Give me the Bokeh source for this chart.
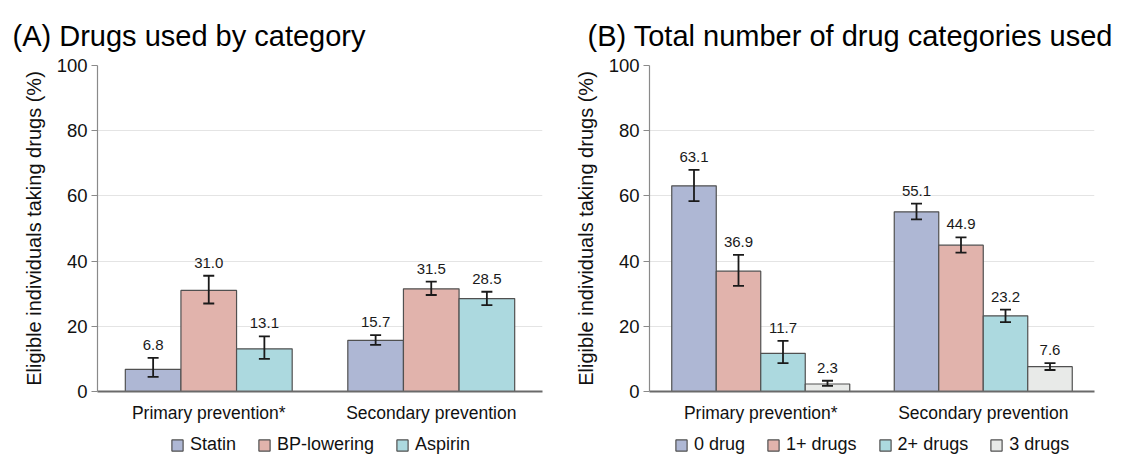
from bokeh.plotting import figure
from bokeh.layouts import row, column
from bokeh.models import (ColumnDataSource, FactorRange, Range1d, FixedTicker,
                          Whisker, TeeHead, Legend, LegendItem)
from bokeh.transform import dodge
from bokeh.core.properties import value
from bokeh.embed import file_html
from bokeh.resources import INLINE

FONT = "Liberation Sans"

groups = ["Primary prevention*", "Secondary prevention"]

# (A) Drugs used by category: estimate, lower and upper 95% CI
statin = [6.8, 15.7]
statin_lo = [4.5, 14.3]
statin_hi = [10.3, 17.3]
bp_lowering = [31.0, 31.5]
bp_lowering_lo = [27.0, 29.6]
bp_lowering_hi = [35.5, 33.7]
aspirin = [13.1, 28.5]
aspirin_lo = [10.0, 26.5]
aspirin_hi = [16.9, 30.6]

# (B) Total number of drug categories used
drug0 = [63.1, 55.1]
drug0_lo = [58.4, 52.8]
drug0_hi = [68.0, 57.6]
drug1 = [36.9, 44.9]
drug1_lo = [32.4, 42.6]
drug1_hi = [41.9, 47.3]
drug2 = [11.7, 23.2]
drug2_lo = [8.7, 21.3]
drug2_hi = [15.5, 25.1]
drug3 = [2.3, 7.6]
drug3_lo = [1.7, 6.6]
drug3_hi = [3.3, 8.7]

y_ticks = [0, 20, 40, 60, 80, 100]

BLUE = "#aeb7d4"
RED = "#e1b3ac"
CYAN = "#acd9df"
GREY = "#e8eae8"
EDGE = "#505050"


def series_source(vals, lo, hi):
    return ColumnDataSource(dict(group=groups, top=vals, lower=lo, upper=hi,
                                 label=[f"{v:.1f}" for v in vals]))


def make_panel(title, series, bar_width, title_offset, border_left, border_right):
    p = figure(x_range=FactorRange(*groups, range_padding=0, factor_padding=0),
               y_range=Range1d(0, 100),
               frame_width=445, frame_height=326,
               min_border_left=border_left, min_border_right=border_right,
               min_border_top=65, min_border_bottom=36,
               output_backend="svg", toolbar_location=None, title=title)
    p.title.text_font = FONT
    p.title.text_font_size = "29px"
    p.title.text_font_style = "normal"
    p.title.text_color = "#000000"
    p.title.align = "left"
    p.title.offset = title_offset
    p.title.standoff = 27

    p.outline_line_color = None
    p.xgrid.grid_line_color = None
    p.ygrid.grid_line_color = "#e4e4e4"
    p.ygrid.grid_line_width = 1.2

    p.yaxis.ticker = FixedTicker(ticks=y_ticks)
    p.yaxis.axis_label = "Eligible individuals taking drugs (%)"
    p.yaxis.axis_label_text_font = FONT
    p.yaxis.axis_label_text_font_size = "20px"
    p.yaxis.axis_label_text_font_style = "normal"
    p.yaxis.axis_label_text_color = "#111111"
    p.yaxis.axis_label_standoff = 9
    p.yaxis.major_label_text_font = FONT
    p.yaxis.major_label_text_font_size = "18.5px"
    p.yaxis.major_label_text_color = "#111111"
    p.yaxis.major_label_standoff = 4
    p.yaxis.axis_line_color = "#8a8a8a"
    p.yaxis.axis_line_width = 1.2
    p.yaxis.major_tick_line_color = "#8a8a8a"
    p.yaxis.major_tick_line_width = 1.2
    p.yaxis.major_tick_out = 6
    p.yaxis.major_tick_in = 0
    p.yaxis.minor_tick_line_color = None

    p.xaxis.major_label_text_font = FONT
    p.xaxis.major_label_text_font_size = "17.5px"
    p.xaxis.major_label_text_color = "#111111"
    p.xaxis.major_label_standoff = 11
    p.xaxis.axis_line_color = "#6a6a6a"
    p.xaxis.axis_line_width = 1.8
    p.xaxis.major_tick_line_color = None
    p.xaxis.major_tick_out = 0
    p.xaxis.major_tick_in = 0
    p.xaxis.minor_tick_line_color = None

    n = len(series)
    for i, (name, vals, lo, hi, color) in enumerate(series):
        off = (i - (n - 1) / 2) * bar_width
        src = series_source(vals, lo, hi)
        p.vbar(x=dodge("group", off, range=p.x_range), top="top", bottom=0,
               width=bar_width, source=src, fill_color=color,
               line_color=EDGE, line_width=1.2)
        w = Whisker(base=dodge("group", off, range=p.x_range), upper="upper", lower="lower",
                    source=src, line_color="#1a1a1a", line_width=1.8, level="overlay",
                    upper_head=TeeHead(size=11, line_color="#1a1a1a", line_width=1.8),
                    lower_head=TeeHead(size=11, line_color="#1a1a1a", line_width=1.8))
        p.add_layout(w)
        p.text(x=dodge("group", off, range=p.x_range), y="upper", text="label", source=src,
               text_font=value(FONT), text_font_size="15px", text_color="#1a1a1a",
               text_align="center", text_baseline="bottom", y_offset=-8)
    return p


def make_key(series, bar_width, border_left, border_right, legend_x):
    # a thin strip under each panel that holds its horizontal key;
    # its bar renderers stay hidden and only lend their swatches to the legend
    k = figure(x_range=FactorRange(*groups, range_padding=0, factor_padding=0),
               y_range=Range1d(0, 100),
               frame_width=445, frame_height=28,
               min_border_left=border_left, min_border_right=border_right,
               min_border_top=0, min_border_bottom=0,
               x_axis_location=None, y_axis_location=None,
               output_backend="svg", toolbar_location=None)
    k.grid.visible = False
    k.outline_line_color = None
    n = len(series)
    items = []
    for i, (name, vals, lo, hi, color) in enumerate(series):
        off = (i - (n - 1) / 2) * bar_width
        r = k.vbar(x=dodge("group", off, range=k.x_range), top="top", bottom=0,
                   width=bar_width, source=series_source(vals, lo, hi),
                   fill_color=color, line_color=EDGE, line_width=1.2, visible=False)
        items.append(LegendItem(label=value(name), renderers=[r]))
    legend = Legend(items=items, orientation="horizontal", location=(legend_x, 0),
                    glyph_width=14, glyph_height=14, label_standoff=6, spacing=21,
                    label_text_font=FONT, label_text_font_size="18px",
                    label_text_color="#111111", border_line_color=None,
                    background_fill_alpha=0, padding=0, margin=0,
                    click_policy="none", inactive_fill_alpha=0)
    k.add_layout(legend, "center")
    return k


series_a = [("Statin", statin, statin_lo, statin_hi, BLUE),
            ("BP-lowering", bp_lowering, bp_lowering_lo, bp_lowering_hi, RED),
            ("Aspirin", aspirin, aspirin_lo, aspirin_hi, CYAN)]
series_b = [("0 drug", drug0, drug0_lo, drug0_hi, BLUE),
            ("1+ drugs", drug1, drug1_lo, drug1_hi, RED),
            ("2+ drugs", drug2, drug2_lo, drug2_hi, CYAN),
            ("3 drugs", drug3, drug3_lo, drug3_hi, GREY)]

pa = make_panel("(A) Drugs used by category", series_a, bar_width=0.25,
                title_offset=-85, border_left=97, border_right=19)
pb = make_panel("(B) Total number of drug categories used", series_b, bar_width=0.2,
                title_offset=-62, border_left=88, border_right=29)

ka = make_key(series_a, 0.25, 97, 19, legend_x=73)
kb = make_key(series_b, 0.2, 88, 29, legend_x=25)

layout = column(row(pa, pb), row(ka, kb))
open("out.html", "w").write(file_html(layout, INLINE))
